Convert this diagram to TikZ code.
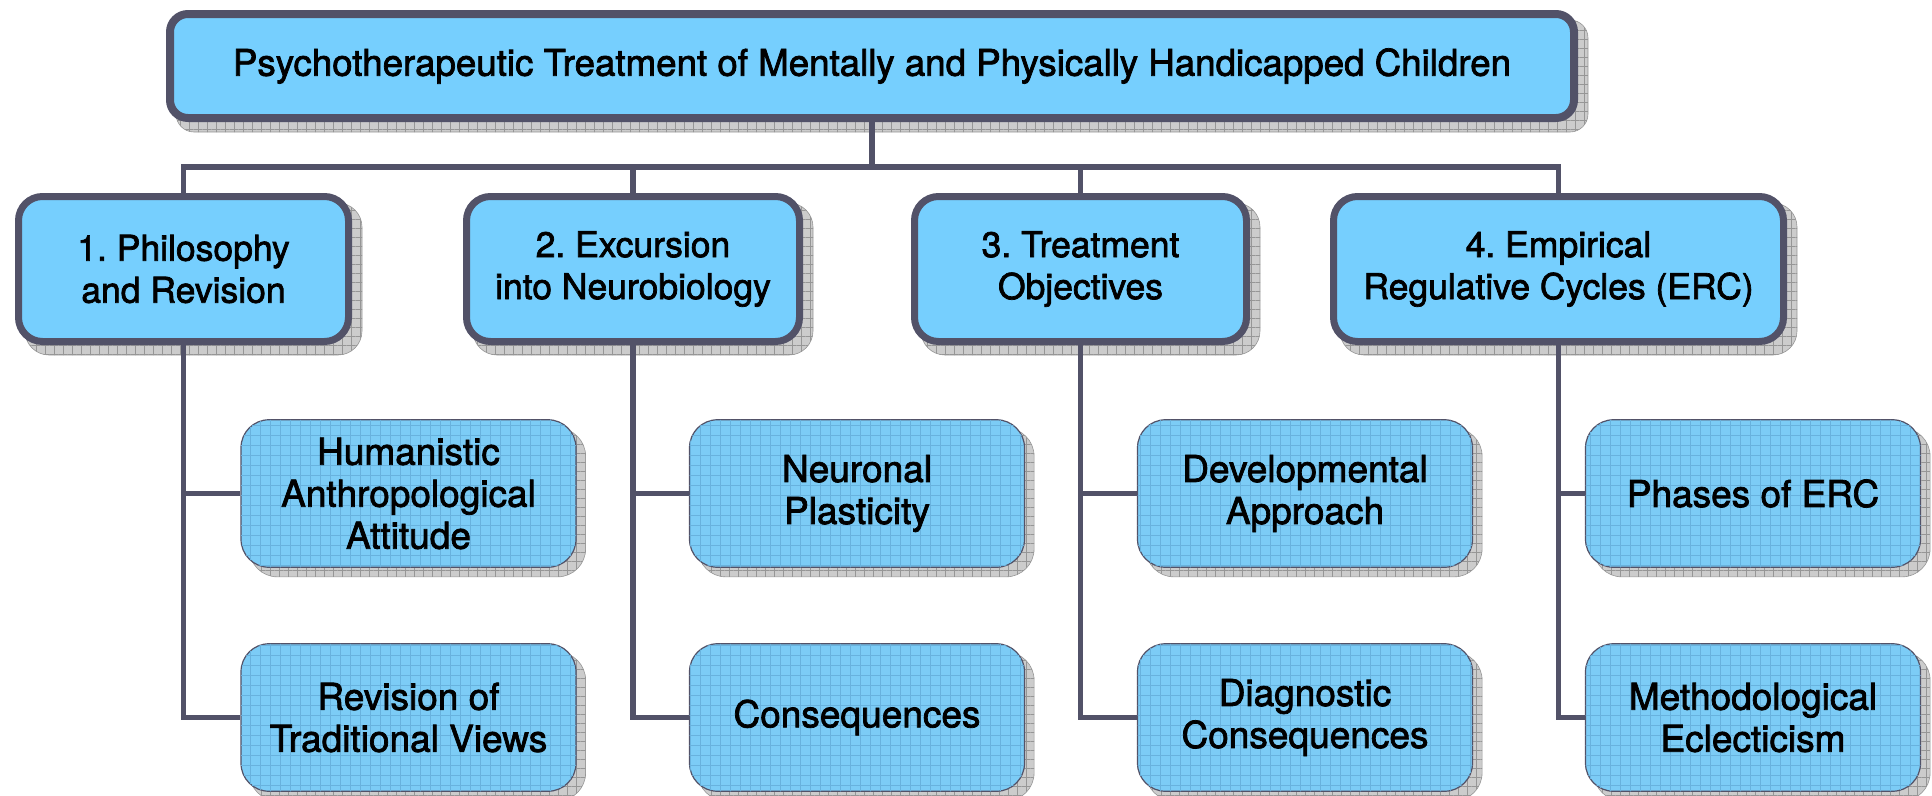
\documentclass[tikz,border=0pt]{standalone}
\usepackage{fontspec}
\setmainfont{TeX Gyre Heros}[BoldFont=TeX Gyre Heros, BoldFeatures={FakeBold=2}]
\usetikzlibrary{patterns.meta}
\definecolor{boxfill}{RGB}{118,207,254}
\definecolor{childfill}{RGB}{124,204,246}
\definecolor{edge}{RGB}{82,82,104}
\definecolor{shadowgray}{RGB}{204,204,204}
\definecolor{gridgray}{RGB}{150,150,150}
\definecolor{gridblue}{RGB}{104,178,222}
\pgfdeclarelayer{shadowlayer}
\pgfdeclarelayer{connlayer}
\pgfsetlayers{shadowlayer,connlayer,main}
\frenchspacing
\begin{document}
\begin{tikzpicture}[x=1pt,y=-1pt,
  titlebox/.style={draw=edge, line width=8pt, fill=boxfill, rounded corners=18pt,
    minimum width=1404pt, minimum height=104pt, inner sep=0pt,
    font=\fontsize{36.7}{42}\selectfont\bfseries\frenchspacing},
  topicbox/.style={draw=edge, line width=7pt, fill=boxfill, rounded corners=24pt,
    minimum height=145pt, inner sep=0pt, align=center,
    font=\fontsize{35.5}{42}\selectfont\bfseries\frenchspacing},
  subbox/.style={draw=edge, line width=1.2pt, fill=childfill, rounded corners=28pt,
    minimum width=335pt, minimum height=147.5pt, inner sep=0pt, align=center,
    font=\fontsize{37}{42}\selectfont\bfseries\frenchspacing,
    postaction={pattern={Lines[angle=0,distance=10pt,line width=0.5pt]}, pattern color=gridblue},
    postaction={pattern={Lines[angle=90,distance=10pt,line width=0.5pt]}, pattern color=gridblue}},
  conn/.style={draw=edge, line width=5.8pt},
  shade/.style={fill=shadowgray, draw=gridgray, line width=0.6pt,
    postaction={pattern={Lines[angle=0,distance=9pt,line width=0.7pt]}, pattern color=gridgray},
    postaction={pattern={Lines[angle=90,distance=9pt,line width=0.7pt]}, pattern color=gridgray}}]
\useasboundingbox (0,0) rectangle (1932,795);

% title
\node[titlebox] (T) at (872,66) {Psychotherapeutic Treatment of Mentally and Physically Handicapped Children};

% topics
\node[topicbox, minimum width=330pt] (L1) at (183.5,269) {1. Philosophy\\and Revision};
\node[topicbox, minimum width=333pt] (L2) at (633,269) {2. Excursion\\into Neurobiology};
\node[topicbox, minimum width=332pt] (L3) at (1080.5,269) {3. Treatment\\Objectives};
\node[topicbox, minimum width=450pt] (L4) at (1558.5,269) {4. Empirical\\Regulative Cycles (ERC)};

% sub topics
\node[subbox] (S11) at (408.5,493.5) {Humanistic\\Anthropological\\Attitude};
\node[subbox] (S12) at (408.5,717.5) {Revision of\\Traditional Views};
\node[subbox] (S21) at (857,493.5) {Neuronal\\Plasticity};
\node[subbox] (S22) at (857,717.5) {Consequences};
\node[subbox] (S31) at (1305,493.5) {Developmental\\Approach};
\node[subbox] (S32) at (1305,717.5) {Diagnostic\\Consequences};
\node[subbox] (S41) at (1753,493.5) {Phases of ERC};
\node[subbox] (S42) at (1753,717.5) {Methodological\\Eclecticism};

% shadows
\begin{pgfonlayer}{shadowlayer}
\foreach \n/\r/\d in {T/18pt/10, L1/24pt/10, L2/24pt/10, L3/24pt/10, L4/24pt/10,
  S11/28pt/9, S12/28pt/9, S21/28pt/9, S22/28pt/9, S31/28pt/9, S32/28pt/9, S41/28pt/9, S42/28pt/9}{
  \path[shade, rounded corners=\r] ([shift={(\d,\d)}]\n.north west) rectangle ([shift={(\d,\d)}]\n.south east);
}
\end{pgfonlayer}

% connectors
\begin{pgfonlayer}{connlayer}
\coordinate (bus) at (872,167);
\draw[conn] (T.south) -- (bus);
\draw[conn] (L1.north) |- (bus) -| (L4.north);
\draw[conn] (bus -| L2.north) -- (L2.north);
\draw[conn] (bus -| L3.north) -- (L3.north);
\draw[conn] (L1.south) |- (S12.west);
\draw[conn] (L1.south |- S11.west) -- (S11.west);
\draw[conn] (L2.south) |- (S22.west);
\draw[conn] (L2.south |- S21.west) -- (S21.west);
\draw[conn] (L3.south) |- (S32.west);
\draw[conn] (L3.south |- S31.west) -- (S31.west);
\draw[conn] (L4.south) |- (S42.west);
\draw[conn] (L4.south |- S41.west) -- (S41.west);
\end{pgfonlayer}
\end{tikzpicture}
\end{document}
